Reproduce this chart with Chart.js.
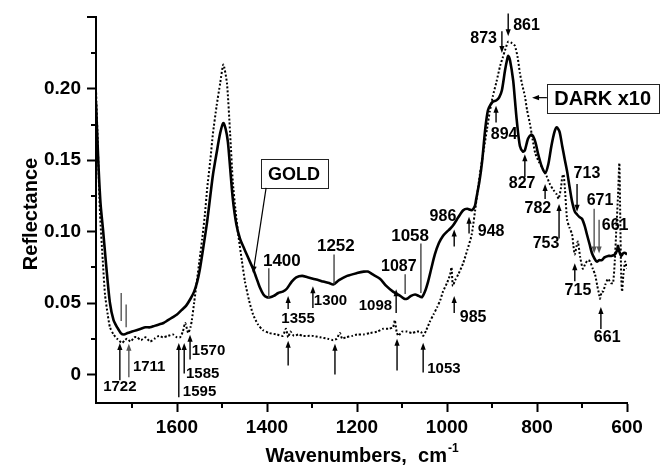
<!DOCTYPE html>
<html><head><meta charset="utf-8">
<script src="https://cdn.jsdelivr.net/npm/chart.js@4/dist/chart.umd.min.js"></script>
<style>html,body{margin:0;padding:0;background:#fff}</style>
</head><body>
<canvas id="c" width="665" height="468"></canvas>
<script>
// ---- data ----
const goldWn = [1780,1775,1770,1764,1757,1749,1741,1733,1725,1718,1710,1700,1690,1680,1670,1660,1650,1640,1630,1620,1610,1600,1590,1580,1570,1562,1555,1549,1541,1533,1526,1520,1512,1504,1497,1492,1487,1482,1476,1468,1460,1452,1445,1438,1431,1424,1416,1408,1400,1393,1385,1375,1365,1356,1345,1335,1322,1310,1298,1285,1275,1262,1253,1240,1222,1200,1185,1176,1165,1149,1135,1120,1104,1095,1089,1080,1071,1063,1056,1049,1042,1035,1027,1018,1009,1000,993,985,975,964,955,945,938,935,928,922,915,909,903,898,890,884,878,871,866,864,860,853,849,845,838,831,827,820,813,809,803,798,790,782,775,768,761,756,750,744,738,733,727,722,716,711,705,700,694,689,683,678,672,667,662,656,650,642,635,627,622,620,617,613,608,604,600];
const goldR = [0.190,0.150,0.120,0.100,0.075,0.050,0.038,0.033,0.029,0.028,0.029,0.030,0.031,0.032,0.033,0.033,0.034,0.035,0.036,0.038,0.040,0.042,0.045,0.048,0.053,0.058,0.065,0.074,0.090,0.107,0.125,0.140,0.155,0.169,0.176,0.172,0.163,0.145,0.123,0.105,0.095,0.089,0.084,0.079,0.074,0.068,0.061,0.056,0.054,0.054,0.055,0.057,0.058,0.060,0.065,0.068,0.069,0.068,0.067,0.066,0.065,0.064,0.063,0.066,0.069,0.071,0.072,0.072,0.070,0.067,0.062,0.058,0.055,0.053,0.053,0.055,0.056,0.055,0.054,0.058,0.065,0.074,0.084,0.092,0.097,0.100,0.102,0.105,0.110,0.115,0.116,0.115,0.118,0.123,0.135,0.149,0.172,0.185,0.189,0.191,0.192,0.194,0.199,0.213,0.221,0.223,0.220,0.206,0.192,0.178,0.160,0.156,0.157,0.165,0.168,0.167,0.162,0.155,0.146,0.141,0.147,0.160,0.170,0.173,0.170,0.160,0.150,0.142,0.130,0.121,0.114,0.112,0.110,0.109,0.104,0.098,0.091,0.085,0.081,0.079,0.080,0.080,0.082,0.083,0.083,0.084,0.087,0.090,0.086,0.083,0.085,0.085,0.084];
const darkWn = [1780,1776,1771,1765,1760,1754,1749,1741,1733,1722,1716,1711,1703,1695,1689,1680,1670,1660,1650,1640,1631,1620,1609,1600,1593,1587,1582,1578,1575,1570,1567,1562,1556,1550,1544,1538,1533,1526,1520,1512,1504,1497,1489,1482,1476,1470,1464,1456,1449,1440,1431,1420,1409,1395,1378,1365,1358,1353,1348,1340,1330,1320,1300,1282,1265,1253,1245,1238,1233,1225,1210,1200,1185,1171,1155,1142,1130,1120,1116,1112,1108,1100,1089,1078,1067,1058,1053,1046,1038,1030,1022,1015,1009,1000,993,990,987,982,975,964,955,945,935,927,919,911,905,898,890,882,876,871,864,856,849,843,838,833,827,822,816,810,804,796,787,779,771,763,756,752,747,744,741,738,733,728,722,719,716,712,709,704,698,692,686,682,676,671,666,662,660,656,653,648,642,636,631,627,624,620,617,615,613,611,608,604,600];
const darkR = [0.200,0.160,0.112,0.080,0.056,0.042,0.033,0.028,0.025,0.022,0.024,0.025,0.023,0.026,0.026,0.024,0.026,0.023,0.025,0.027,0.026,0.027,0.028,0.026,0.026,0.030,0.036,0.032,0.029,0.033,0.038,0.050,0.065,0.080,0.095,0.112,0.130,0.150,0.169,0.188,0.204,0.217,0.204,0.169,0.135,0.115,0.098,0.080,0.065,0.052,0.042,0.035,0.031,0.029,0.028,0.027,0.032,0.026,0.030,0.027,0.028,0.027,0.027,0.026,0.025,0.024,0.025,0.029,0.025,0.026,0.027,0.028,0.028,0.029,0.030,0.032,0.032,0.033,0.038,0.030,0.027,0.030,0.030,0.029,0.030,0.030,0.027,0.031,0.037,0.042,0.047,0.052,0.058,0.064,0.070,0.075,0.062,0.066,0.070,0.078,0.087,0.098,0.121,0.140,0.156,0.172,0.184,0.195,0.205,0.216,0.222,0.227,0.233,0.232,0.230,0.222,0.211,0.203,0.195,0.185,0.176,0.165,0.155,0.149,0.144,0.139,0.133,0.129,0.126,0.123,0.130,0.138,0.140,0.130,0.108,0.103,0.098,0.090,0.084,0.090,0.093,0.082,0.074,0.078,0.080,0.079,0.074,0.070,0.062,0.056,0.053,0.058,0.058,0.063,0.067,0.064,0.064,0.080,0.100,0.125,0.148,0.110,0.070,0.058,0.070,0.079,0.074];

const xTicks = [1600,1400,1200,1000,800,600];
const xMinor = [1700,1500,1300,1100,900,700];
const yTicks = [0,0.05,0.10,0.15,0.20];
const yMinor = [0.025,0.075,0.125,0.175,0.225,0.25];

// ---- annotations (positions in data units) ----
// labels: [text, wavenumber, reflectance, align, fontSize]
const labels = [
 ['1722',1727,-0.009,'center',15],['1711',1698,0.0056,'left',15],
 ['1595',1587,-0.0125,'left',15],['1585',1580,0.0007,'left',15],['1570',1567,0.0167,'left',15],
 ['1400',1367,0.079,'center',17],['1355',1331,0.0389,'center',15],['1300',1296,0.0514,'left',15],
 ['1252',1247,0.0896,'center',17],['1087',1107,0.0757,'center',16],['1058',1082,0.0965,'center',17],
 ['1098',1122,0.0479,'right',15],['1053',1044,0.0042,'left',15],
 ['986',1009,0.1104,'center',16],['948',902,0.100,'center',16],['985',942,0.0396,'center',16],
 ['861',853,0.2444,'left',16],['873',889,0.2354,'right',16],['894',873,0.168,'center',16],
 ['827',833,0.1333,'center',16],['782',798,0.116,'center',16],['753',780,0.0917,'center',16],
 ['713',689,0.1403,'center',16],['715',709,0.059,'center',16],['671',660,0.1215,'center',16],
 ['661',656,0.1042,'left',16],['661',644,0.0257,'center',16]
];
// vertical arrows/lines: [wavenumber, tailY, headY, head?, colour]
const arrows = [
 [1724,0.057,0.0375,false,'#555'],[1713,0.049,0.033,false,'#555'],
 [1727,-0.004,0.022,true,'#000'],[1707,-0.002,0.0215,true,'#555'],
 [1596,-0.016,0.022,true,'#000'],[1584,0.0007,0.022,true,'#000'],[1571,0.0104,0.0278,true,'#000'],
 [1396,0.0743,0.0535,false,'#444'],[1353,0.0458,0.0549,true,'#000'],[1353,0.0063,0.0236,true,'#000'],
 [1298,0.0465,0.0618,true,'#000'],[1251,0.084,0.0632,false,'#444'],[1249,0.0,0.0215,true,'#000'],
 [1093,0.0701,0.0563,false,'#444'],[1058,0.0917,0.057,false,'#444'],
 [1113,0.0431,0.0597,true,'#000'],[1111,0.0028,0.025,true,'#000'],[1053,0.0014,0.0222,true,'#000'],
 [864,0.2528,0.2368,true,'#000'],[878,0.2403,0.225,true,'#000'],[891,0.1764,0.1882,true,'#000'],
 [827,0.1382,0.1542,true,'#000'],[782,0.1229,0.1333,true,'#000'],[711,0.1333,0.1139,true,'#000'],
 [673,0.116,0.0847,true,'#555'],[662,0.1083,0.0847,true,'#555'],[751,0.0951,0.1194,true,'#000'],
 [716,0.0653,0.0778,true,'#000'],[658,0.0319,0.0472,true,'#000'],
 [984,0.0896,0.1014,true,'#000'],[951,0.0986,0.1104,true,'#000'],[984,0.0431,0.0549,true,'#000']
];
// boxed legends: [text, wnCentre, yCentre, fontSize, tailWn, tailY, headWn, headY]
const boxes = [
 ['GOLD',1340,0.1406,18,1402,0.1306,1431,0.0708],
 ['DARK x10',654,0.1931,20,778,0.1938,811,0.1938]
];

const FONT = "'Liberation Sans', Arial, sans-serif";

function head(ctx,x1,y1,x2,y2,col){
  const a=Math.atan2(y2-y1,x2-x1), L=7, w=2.6;
  ctx.fillStyle=col;ctx.beginPath();
  ctx.moveTo(x2,y2);
  ctx.lineTo(x2-L*Math.cos(a)+w*Math.sin(a), y2-L*Math.sin(a)-w*Math.cos(a));
  ctx.lineTo(x2-L*Math.cos(a)-w*Math.sin(a), y2-L*Math.sin(a)+w*Math.cos(a));
  ctx.closePath();ctx.fill();
}

const deco = {
  id:'deco',
  afterDraw(chart){
    const ctx=chart.ctx, xs=chart.scales.x, ys=chart.scales.y, ca=chart.chartArea;
    ctx.save();
    // minor ticks
    ctx.strokeStyle='#000';ctx.lineWidth=2;
    xMinor.forEach(v=>{const p=Math.round(xs.getPixelForValue(v));ctx.beginPath();ctx.moveTo(p,ca.bottom);ctx.lineTo(p,ca.bottom+5);ctx.stroke();});
    yMinor.forEach(v=>{const p=Math.round(ys.getPixelForValue(v));ctx.beginPath();ctx.moveTo(ca.left-(v===0.25?9:5),p);ctx.lineTo(ca.left,p);ctx.stroke();});
    // arrows
    arrows.forEach(([w,t,h,hd,col])=>{
      const x=xs.getPixelForValue(w), y1=ys.getPixelForValue(t), y2=ys.getPixelForValue(h);
      ctx.strokeStyle=col;ctx.lineWidth=1.4;ctx.beginPath();ctx.moveTo(x,y1);
      ctx.lineTo(x, hd ? y2+(y2<y1?5:-5) : y2);ctx.stroke();
      if(hd) head(ctx,x,y1,x,y2,col);
    });
    // labels
    ctx.fillStyle='#000';ctx.textBaseline='middle';
    labels.forEach(([t,w,v,al,fs])=>{
      ctx.font='bold '+fs+'px '+FONT;ctx.textAlign=al;
      ctx.fillText(t,xs.getPixelForValue(w),ys.getPixelForValue(v));
    });
    // boxes
    boxes.forEach(([t,w,v,fs,tw,tv,hw,hv])=>{
      const cx=xs.getPixelForValue(w), cy=ys.getPixelForValue(v);
      ctx.font='bold '+fs+'px '+FONT;ctx.textAlign='center';
      const tw0=ctx.measureText(t).width, bw=tw0+15, bh=29;
      ctx.fillStyle='#fff';ctx.fillRect(cx-bw/2,cy-bh/2,bw,bh);
      ctx.strokeStyle='#222';ctx.lineWidth=1;ctx.strokeRect(Math.round(cx-bw/2)+0.5,Math.round(cy-bh/2)+0.5,Math.round(bw),bh);
      ctx.fillStyle='#000';ctx.fillText(t,cx,cy+1);
      const x1=xs.getPixelForValue(tw), y1=ys.getPixelForValue(tv), x2=xs.getPixelForValue(hw), y2=ys.getPixelForValue(hv);
      const a=Math.atan2(y2-y1,x2-x1);
      ctx.strokeStyle='#000';ctx.lineWidth=1.2;ctx.beginPath();ctx.moveTo(x1,y1);ctx.lineTo(x2-5*Math.cos(a),y2-5*Math.sin(a));ctx.stroke();
      head(ctx,x1,y1,x2,y2,'#000');
    });
    // axis titles
    ctx.fillStyle='#000';
    ctx.font='bold 20px '+FONT;ctx.textAlign='left';ctx.textBaseline='alphabetic';
    const main='Wavenumbers,  cm';
    ctx.font='bold 20px '+FONT;const mw=ctx.measureText(main).width;
    ctx.font='bold 12px '+FONT;const sw=ctx.measureText('-1').width;
    const cx=(ca.left+ca.right)/2, x0=cx-(mw+sw)/2;
    ctx.font='bold 20px '+FONT;ctx.fillText(main,x0,462);
    ctx.font='bold 12px '+FONT;ctx.fillText('-1',x0+mw+1,452);
    ctx.save();ctx.translate(37,214);ctx.rotate(-Math.PI/2);
    ctx.font='bold 20px '+FONT;ctx.textAlign='center';ctx.fillText('Reflectance',0,0);
    ctx.restore();
    ctx.restore();
  }
};

const tickFont={family:FONT,size:19,weight:'bold'};
new Chart(document.getElementById('c'),{
  type:'line',
  data:{datasets:[
    {label:'GOLD',data:goldWn.map((x,i)=>({x,y:goldR[i]})),borderColor:'#000',borderWidth:2.6,pointRadius:0,tension:0.25,fill:false},
    {label:'DARK x10',data:darkWn.map((x,i)=>({x,y:darkR[i]})),borderColor:'#000',borderWidth:2,borderDash:[2,2],pointRadius:0,tension:0.2,fill:false}
  ]},
  options:{
    responsive:false,animation:false,devicePixelRatio:1,
    layout:{padding:{top:13,right:38,left:0,bottom:0}},
    plugins:{legend:{display:false},tooltip:{enabled:false}},
    scales:{
      x:{type:'linear',reverse:true,min:600,max:1780,
        afterBuildTicks:s=>{s.ticks=xTicks.map(v=>({value:v}));},
        afterFit:s=>{s.height=65;},
        ticks:{font:tickFont,color:'#000',padding:4,maxRotation:0,autoSkip:false,callback:v=>String(v)},
        grid:{drawOnChartArea:false,drawTicks:true,tickLength:9,tickWidth:2,tickColor:'#000'},
        border:{display:true,color:'#000',width:2}},
      y:{type:'linear',min:-0.02,max:0.25,
        afterBuildTicks:s=>{s.ticks=yTicks.map(v=>({value:v}));},
        afterFit:s=>{s.width=96;},
        ticks:{font:tickFont,color:'#000',padding:6,callback:v=>v===0?'0':v.toFixed(2)},
        grid:{drawOnChartArea:false,drawTicks:true,tickLength:9,tickWidth:2,tickColor:'#000'},
        border:{display:true,color:'#000',width:2}}
    }
  },
  plugins:[deco]
});
</script>
</body></html>
